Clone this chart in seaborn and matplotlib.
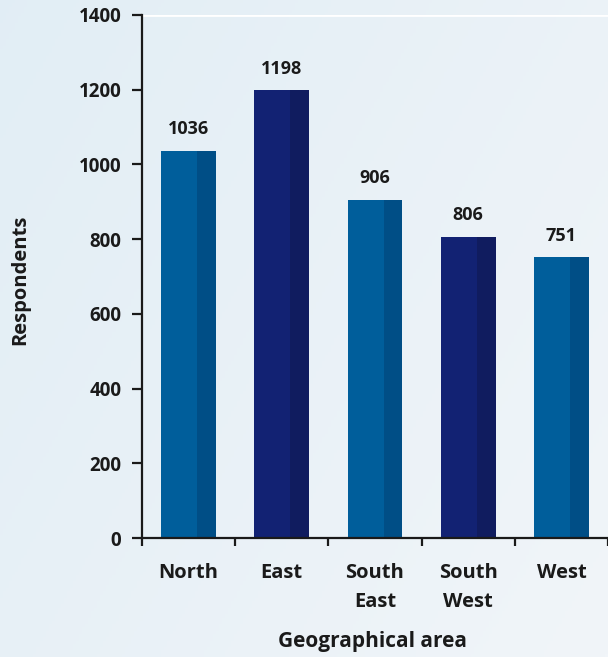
import numpy as np
import pandas as pd
import matplotlib
matplotlib.use("Agg")
import matplotlib.pyplot as plt
from matplotlib.patches import Rectangle
import seaborn as sns

categories = ["North", "East", "South\nEast", "South\nWest", "West"]
respondents = [1036, 1198, 906, 806, 751]
y_ticks = [0, 200, 400, 600, 800, 1000, 1200, 1400]

light_cols = ["#005e9b", "#122273", "#005e9b", "#122273", "#005e9b"]
dark_cols = ["#004e86", "#101c5f", "#004e86", "#101c5f", "#004e86"]

sns.set_theme(style="white")
plt.rcParams["font.family"] = ["Open Sans", "DejaVu Sans"]
plt.rcParams["font.weight"] = "bold"

fig = plt.figure(figsize=(6.08, 6.57), dpi=100)

# sky-like background
bg = fig.add_axes([0, 0, 1, 1], zorder=-10)
yy, xx = np.mgrid[0:1:200j, 0:1:200j]
c1 = np.array([222, 236, 244]) / 255
c2 = np.array([241, 245, 249]) / 255
t = np.clip(0.5 * xx + 0.3 * (1 - yy) + 0.2, 0, 1)
img = c1[None, None, :] * (1 - t[..., None]) + c2[None, None, :] * t[..., None]
bg.imshow(img, aspect="auto", extent=[0, 1, 0, 1], origin="lower")
bg.axis("off")

ax = fig.add_axes([142 / 608, 1 - 538 / 657, 466 / 608, 523 / 657])
ax.set_facecolor("none")

df = pd.DataFrame({"area": categories, "n": respondents})
sns.barplot(data=df, x="area", y="n", hue="area", palette=light_cols,
            width=0.59, legend=False, ax=ax, saturation=1, linewidth=0)

for p, dc in zip(ax.patches, dark_cols):
    x0, w, h = p.get_x(), p.get_width(), p.get_height()
    ax.add_patch(Rectangle((x0 + w * 0.655, 0), w * 0.345, h,
                           facecolor=dc, edgecolor="none", zorder=p.get_zorder() + 0.1))

for i, v in enumerate(respondents):
    ax.annotate(f"{v}", (i, v), xytext=(0, 15.5), textcoords="offset points",
                ha="center", va="center", fontsize=13, fontweight="bold", color="#1a1a1a")

ax.set_xlim(-0.5, 4.5)
ax.set_ylim(0, 1400)
ax.set_yticks(y_ticks)
ax.set_yticklabels([str(v) for v in y_ticks], fontsize=13.5, fontweight="bold", color="#1a1a1a")
ax.set_xticks(range(len(categories)))
ax.set_xticklabels(categories, fontsize=14.5, fontweight="bold", color="#1a1a1a",
                   linespacing=1.62, va="top")
ax.set_xticks(np.arange(-0.5, 5, 1), minor=True)
ax.tick_params(axis="x", which="major", length=0, pad=18)
ax.tick_params(axis="x", which="minor", length=6, width=1.6, direction="out", color="#1a1a1a", bottom=True)
ax.tick_params(axis="y", length=7, width=1.6, direction="out", color="#1a1a1a", left=True, pad=8)

ax.axhline(1400, color="white", lw=2, zorder=0.5)
for s in ["top", "right"]:
    ax.spines[s].set_visible(False)
for s in ["left", "bottom"]:
    ax.spines[s].set_color("#1a1a1a")
    ax.spines[s].set_linewidth(1.6)

ax.set_xlabel("")
ax.set_ylabel("")
fig.text(20 / 608, 1 - 280 / 657, "Respondents", rotation=90, ha="center", va="center",
         fontsize=14.5, fontweight="bold", color="#1a1a1a")
fig.text(372 / 608, 1 - 641 / 657, "Geographical area", ha="center", va="center",
         fontsize=15, fontweight="bold", color="#1a1a1a")

fig.savefig("out.png", dpi=100)
